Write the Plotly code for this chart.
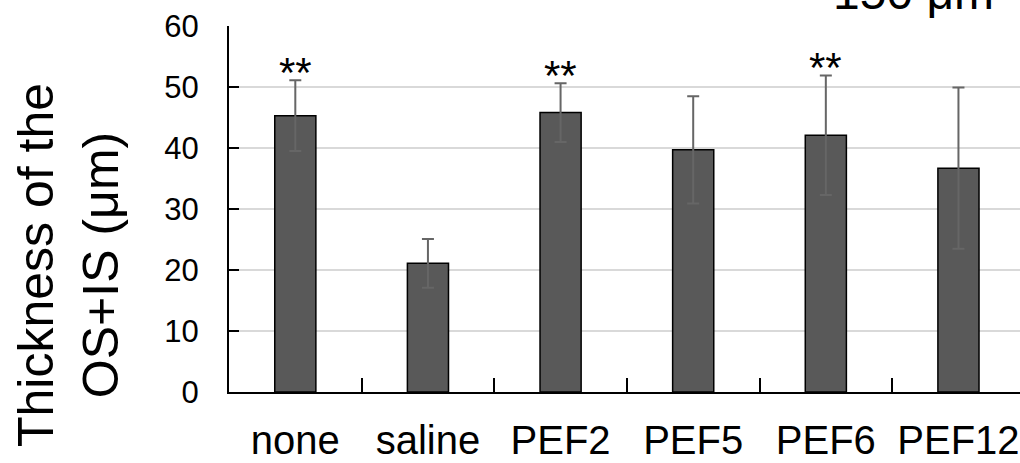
import plotly.graph_objects as go

# Groups and measured thickness (mean ± SD)
groups = ["none", "saline", "PEF2", "PEF5", "PEF6", "PEF12"]
means = [45.3, 21.1, 45.8, 39.7, 42.1, 36.7]
sds = [5.8, 4.0, 4.8, 8.8, 9.8, 13.2]
significant = ["**", "", "**", "", "**", ""]
y_ticks = [0, 10, 20, 30, 40, 50, 60]

FONT = "Liberation Sans, Arial, sans-serif"
W, H = 1020, 463
ML, MR, MT, MB = 229, 0, 26, 71

fig = go.Figure()
fig.add_trace(go.Bar(
    x=groups,
    y=means,
    width=0.31,
    marker=dict(color="#595959", line=dict(color="#000000", width=1.5)),
    error_y=dict(type="data", array=sds, visible=True,
                 color="#666666", thickness=2, width=6),
    showlegend=False,
))

# Significance markers above the error bars
for g, m, s, lab in zip(groups, means, sds, significant):
    if lab:
        fig.add_annotation(x=g, y=m + s, text=lab, showarrow=False,
                           xref="x", yref="y", yanchor="bottom", yshift=-18,
                           font=dict(family=FONT, size=42, color="#000000"))

# Two-line y-axis title
fig.add_annotation(xref="paper", yref="paper", x=0, y=0.5, xshift=-161, yshift=-56,
                   text="Thickness of the<br>OS+IS (μm)", textangle=-90,
                   showarrow=False, xanchor="center", yanchor="middle",
                   font=dict(family=FONT, size=50, color="#000000"))

# Position label in the top corner
fig.add_annotation(xref="paper", yref="paper", x=1, y=1, xshift=-24, yshift=5,
                   text="150 μm", showarrow=False, xanchor="right", yanchor="bottom",
                   font=dict(family=FONT, size=48, color="#000000"))

fig.update_layout(
    width=W, height=H,
    margin=dict(l=ML, r=MR, t=MT, b=MB, pad=0),
    paper_bgcolor="#ffffff", plot_bgcolor="#ffffff",
    bargap=0.69,
    xaxis=dict(
        type="category",
        range=[-0.5, 5.464],
        showline=True, linecolor="#000000", linewidth=2,
        ticks="inside", tickson="boundaries", ticklen=14, tickcolor="#000000", tickwidth=1.5,
        showgrid=False,
        tickfont=dict(family=FONT, size=40, color="#000000"),
        ticklabelstandoff=12,
    ),
    yaxis=dict(
        range=[0, 60],
        tickvals=y_ticks,
        showline=True, linecolor="#000000", linewidth=2,
        ticks="inside", ticklen=10, tickcolor="#000000", tickwidth=2,
        showgrid=True, gridcolor="#d9d9d9", gridwidth=1.5,
        zeroline=False,
        tickfont=dict(family=FONT, size=31, color="#000000"),
        ticklabelstandoff=22,
    ),
)

fig.write_html("out.html")
